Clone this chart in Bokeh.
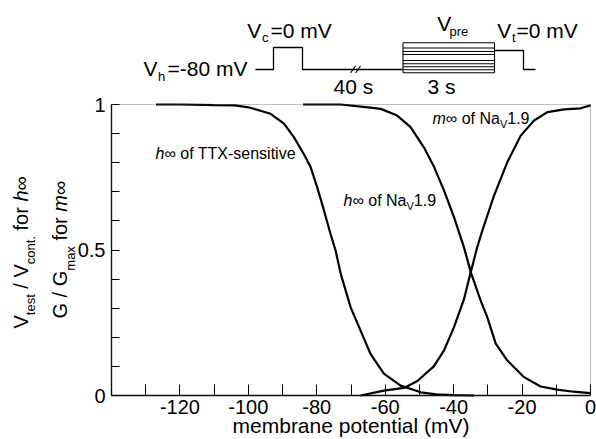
import math
from bokeh.plotting import figure
from bokeh.models import Range1d, FixedTicker, BoxAnnotation
from bokeh.embed import file_html
from bokeh.resources import INLINE
from bokeh.core.properties import value

# ---------------- data ----------------
ttx_v = [-127, -120, -110, -104, -99.5, -93.5, -89.6, -86.7, -83.8, -81.8, -79.9, -77.9,
         -76, -74.5, -73, -70.1, -67.2, -64.3, -60.4, -55.5, -49.6, -45, -40, -34]
ttx_h = [1.0, 1.0, 0.998, 0.997, 0.989, 0.968, 0.934, 0.888, 0.83, 0.785, 0.716, 0.636,
         0.556, 0.498, 0.418, 0.303, 0.223, 0.143, 0.075, 0.034, 0.011, 0.004, 0.001, 0.0]

nav_h_v = [-84, -73, -65, -61.3, -56.5, -52.6, -48.7, -45.7, -42.8, -39.9, -37, -35,
           -32.1, -30.2, -27.7, -24.3, -19.4, -14.6, -9.7, -5, 0]
nav_h = [1.0, 1.0, 0.99, 0.985, 0.962, 0.922, 0.853, 0.785, 0.704, 0.613, 0.51, 0.424,
         0.326, 0.27, 0.178, 0.12, 0.063, 0.031, 0.02, 0.013, 0.008]

nav_m_v = [-67.2, -60.4, -54.5, -50.6, -45.8, -42.8, -39.9, -37, -35, -33.1, -31.6,
           -28.2, -24.3, -20.4, -16.5, -12.6, -7.7, -2.9, 0]
nav_m = [0.0, 0.017, 0.026, 0.05, 0.1, 0.155, 0.235, 0.33, 0.424, 0.51, 0.567,
         0.687, 0.802, 0.893, 0.945, 0.974, 0.983, 0.987, 0.997]

x_ticks = [-120, -100, -80, -60, -40, -20, 0]
x_tick_labels = ["-120", "-100", "-80", "-60", "-40", "-20", "0"]
x_minor = [-130, -110, -90, -70, -50, -30, -10]
y_ticks = [0, 0.5, 1]
y_tick_labels = ["0", "0.5", "1"]
y_minor = [0.1, 0.2, 0.3, 0.4, 0.6, 0.7, 0.8, 0.9]

X_MIN, X_MAX = -140, 0
Y_MIN, Y_MAX = 0, 1

# ---------------- layout (page pixels) ----------------
FONT = "Liberation Sans"
PW, PH = 596, 439
FL, FR, FT, FB = 111, 590, 104, 395   # plot frame box
BL = 0.33                               # baseline correction (fraction of font size)

W = {' ': 278, '(': 333, ')': 333, '-': 333, '.': 278, '/': 278, '=': 584, '\u221e': 713,
     'G': 778, 'N': 722, 'T': 611, 'V': 667, 'X': 667,
     'a': 556, 'b': 556, 'c': 500, 'e': 556, 'f': 278, 'h': 556, 'i': 222, 'l': 222,
     'm': 833, 'n': 556, 'o': 556, 'p': 556, 'r': 333, 's': 500, 't': 278, 'v': 500, 'x': 500}
for d in "0123456789":
    W[d] = 556


def tw(s, size):
    return sum(W.get(c, 556) for c in s) * size / 1000.0


xs = (FR - FL) / float(X_MAX - X_MIN)
ys = (FB - FT) / float(Y_MAX - Y_MIN)

p = figure(width=PW, height=PH,
           x_range=Range1d(X_MIN - FL / xs, X_MAX + (PW - FR) / xs),
           y_range=Range1d(Y_MIN - (PH - FB) / ys, Y_MAX + FT / ys),
           output_backend="svg", toolbar_location=None, min_border=0)
p.extra_x_ranges = {"px": Range1d(0, PW)}
p.extra_y_ranges = {"py": Range1d(PH, 0)}
p.grid.visible = False
p.outline_line_color = None
p.background_fill_color = "white"
p.border_fill_color = "white"

# ---------------- axes ----------------
xax = p.xaxis[0]
yax = p.yaxis[0]
xax.fixed_location = Y_MIN
yax.fixed_location = X_MIN
xax.bounds = (X_MIN, X_MAX)
yax.bounds = (Y_MIN, Y_MAX)
xax.ticker = FixedTicker(ticks=x_ticks, minor_ticks=x_minor)
yax.ticker = FixedTicker(ticks=y_ticks, minor_ticks=y_minor)
xax.major_label_overrides = dict(zip(x_ticks, x_tick_labels))
yax.major_label_overrides = dict(zip(y_ticks, y_tick_labels))
for ax in (xax, yax):
    ax.axis_line_color = "black"
    ax.axis_line_width = 1.3
    ax.major_tick_out = 0
    ax.minor_tick_out = 0
    ax.major_tick_line_color = "black"
    ax.minor_tick_line_color = "black"
    ax.major_tick_line_width = 1
    ax.minor_tick_line_width = 1
    ax.major_label_text_font = FONT
    ax.major_label_text_font_size = "20px"
    ax.major_label_text_color = "black"
xax.major_tick_in = 11
xax.minor_tick_in = 11
xax.major_label_standoff = 4
yax.major_tick_in = 8
yax.minor_tick_in = 8
yax.major_label_standoff = 6

p.add_layout(BoxAnnotation(left=X_MIN, right=X_MAX, bottom=Y_MIN, top=Y_MAX,
                           fill_alpha=0, line_color="#333333", line_width=1.2))

# ---------------- curves ----------------
p.line(ttx_v, ttx_h, line_color="black", line_width=2.2)
p.line(nav_h_v, nav_h, line_color="black", line_width=2.2)
p.line(nav_m_v, nav_m, line_color="black", line_width=2.2)


# ---------------- text helpers (page-pixel coordinates) ----------------
def put(txt, px, py, size, style="normal", angle=0.0, align="left"):
    if angle == 0.0:
        py = py - BL * size
    else:
        px = px - BL * size
    p.text(x=[px], y=[py], text=[txt], text_font=value(FONT), text_font_size=f"{size}px",
           text_font_style=style, text_color="black", text_align=align,
           text_baseline="alphabetic", angle=angle, x_range_name="px", y_range_name="py")


def run_h(pieces, x0, base, size, subsize, suboff):
    x = x0
    for txt, kind in pieces:
        fs = subsize if kind == "sub" else size
        y = base + suboff if kind == "sub" else base
        lead = len(txt) - len(txt.lstrip(" "))
        core = txt.strip(" ")
        if core:
            put(core, x + tw(" " * lead, fs), y, fs, "italic" if kind == "it" else "normal")
        x += tw(txt, fs)


def run_v(pieces, y0, base, size, subsize, suboff):
    y = y0
    for txt, kind in pieces:
        fs = subsize if kind == "sub" else size
        xb = base + suboff if kind == "sub" else base
        lead = len(txt) - len(txt.lstrip(" "))
        core = txt.strip(" ")
        if core:
            put(core, xb, y - tw(" " * lead, fs), fs, "italic" if kind == "it" else "normal",
                angle=math.pi / 2)
        y -= tw(txt, fs)


def pline(xp, yp, w=1.3):
    p.line(xp, yp, line_color="black", line_width=w, x_range_name="px", y_range_name="py")


# ---------------- protocol diagram ----------------
pline([255, 273, 273, 302, 302, 402], [69, 69, 47, 47, 69, 69])
for bx in (350, 355):
    pline([bx, bx + 5], [72.5, 65.5], 1.1)
box_l, box_r, box_t, box_b = 402.5, 494, 42.3, 72.3
for lv in [42.3, 47.5, 51, 54, 60, 63.3, 66.3, 69.3, 72.3]:
    pline([box_l, box_r], [lv, lv], 1.1)
pline([box_l, box_l], [box_t, box_b], 1.1)
pline([box_r, box_r], [box_t, box_b], 1.1)
pline([494, 523, 523, 535], [50, 50, 69, 69])

put("V", 143, 75, 21)
put("h", 157.5, 80, 13)
put("=-80 mV", 167, 75, 21)
put("V", 246.7, 36.7, 21)
put("c", 261.5, 41.5, 13)
put("=0 mV", 270, 36.7, 21)
put("V", 436.7, 30, 21)
put("pre", 449, 35.5, 13)
put("V", 496.7, 36.7, 21)
put("t", 511.5, 41.5, 13)
put("=0 mV", 516, 36.7, 21)
put("40 s", 333, 93, 21)
put("3 s", 427, 93, 21)

# ---------------- curve labels ----------------
run_h([("h", "it"), ("\u221e of TTX-sensitive", "n")], 155, 158.5, 16, 11, 4)
run_h([("h", "it"), ("\u221e of Na", "n"), ("V", "sub"), ("1.9", "n")], 343, 205, 16, 11, 4)
run_h([("m", "it"), ("\u221e of Na", "n"), ("V", "sub"), ("1.9", "n")], 432, 123, 16, 11, 4)

# ---------------- axis titles ----------------
put("membrane potential (mV)", (FL + FR) / 2, 432, 21, align="center")
run_v([("V", "n"), ("test", "sub"), (" / ", "n"), ("V", "n"), ("cont.", "sub"),
       (" for ", "n"), ("h", "it"), ("\u221e", "n")], 328, 27, 20, 13, 7)
run_v([("G", "n"), (" / ", "n"), ("G", "n"), ("max", "sub"),
       (" for ", "n"), ("m", "it"), ("\u221e", "n")], 318, 66, 20, 13, 8)

open("out.html", "w").write(file_html(p, INLINE))
